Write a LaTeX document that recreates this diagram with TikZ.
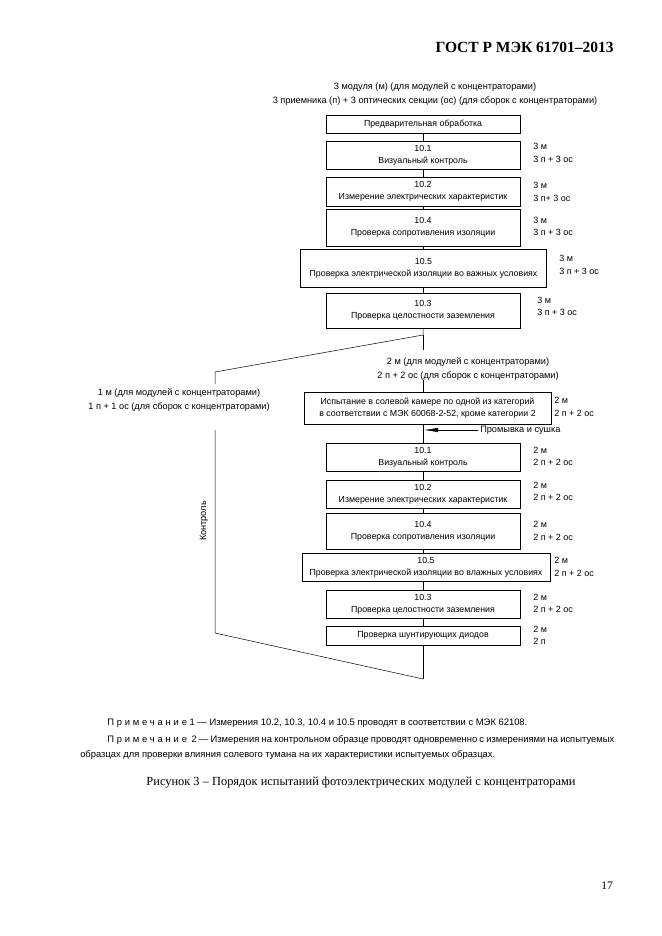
\documentclass[tikz,border=0pt]{standalone}
\usepackage{fontspec}
\setmainfont{Liberation Sans}
\newfontfamily\gostserif{Liberation Serif}
\usetikzlibrary{arrows.meta}

\begin{document}
\begin{tikzpicture}[x=1pt,y=-1pt,line width=0.5pt,
  font=\fontsize{9.2}{14}\selectfont,
  stage/.style={draw, line width=0.6pt, minimum width=194pt, inner sep=0pt, align=center, font=\fontsize{8.8}{12}\selectfont},
  widestage/.style={stage, minimum width=246pt},
  qty/.style={anchor=west, align=left, inner sep=0pt, font=\fontsize{9}{12.5}\selectfont},
  remark/.style={anchor=west, inner sep=0pt, font=\fontsize{9.4}{11}\selectfont}]
\useasboundingbox (0,0) rectangle (661,936);

\node[font=\gostserif\bfseries\fontsize{15.5}{17}\selectfont, anchor=east, inner sep=0pt] (gost) at (614,47) {ГОСТ Р МЭК 61701–2013};
\node[align=center] (top) at (435,94) {3 модуля (м) (для модулей с концентраторами)\\3 приемника (п) + 3 оптических секции (ос) (для сборок с концентраторами)};

% first series
\node[stage, minimum height=18pt] (pre) at (423,124) {Предварительная обработка};
\node[stage, minimum height=28pt] (a1) at (423,155) {10.1\\Визуальный контроль};
\node[qty] (qa1) at (533,153) {3 м\\3 п + 3 ос};
\node[stage, minimum height=29pt] (a2) at (423,191.5) {10.2\\Измерение электрических характеристик};
\node[qty] (qa2) at (533,192) {3 м\\3 п+ 3 ос};
\node[stage, minimum height=37pt] (a4) at (423,227.5) {10.4\\Проверка сопротивления изоляции};
\node[qty] (qa4) at (533,226.5) {3 м\\3 п + 3 ос};
\node[widestage, minimum height=38pt] (a5) at (423.5,268) {10.5\\Проверка электрической изоляции во важных условиях};
\node[qty] (qa5) at (559,265) {3 м\\3 п + 3 ос};
\node[stage, minimum height=35pt] (a3) at (423,310.5) {10.3\\Проверка целостности заземления};
\node[qty] (qa3) at (537,306.5) {3 м\\3 п + 3 ос};
\draw (pre) -- (a1);
\draw (a1) -- (a2);
\draw (a2) -- (a4);
\draw (a4.south) -- (a5.north -| a4.south);
\draw (a5.south -| a3.north) -- (a3.north);

% branches
\coordinate (split) at (423,335);
\coordinate (lcorner) at (215,372);
\coordinate (lstop) at (215,384);
\node[align=center] (lnote) at (179,400) {1 м (для модулей с концентраторами)\\1 п + 1 ос (для сборок с концентраторами)};
\coordinate (lresume) at (215,430);
\coordinate (lbottom) at (215,633);
\coordinate (join) at (423,679);
\node[rotate=90] (ctrl) at (204,521) {Контроль};
\draw (a3) -- (split) -- (lcorner) -- (lstop);
\draw (lresume) -- (lbottom) -- (join);

\coordinate (rstop) at (423,350);
\coordinate (rresume) at (423,380);
\node[align=center] (rnote) at (468,369.5) {2 м (для модулей с концентраторами)\\2 п + 2 ос (для сборок с концентраторами)};
\draw (split) -- (rstop);

% second series
\node[stage, minimum width=247pt, minimum height=32pt] (salt) at (427.5,408) {Испытание в солевой камере по одной из категорий\\в соответствии с МЭК 60068-2-52, кроме категории 2};
\node[qty] (qsalt) at (554,407) {2 м\\2 п + 2 ос};
\draw (rresume) -- (salt.north -| rresume);
\node[anchor=west, inner sep=0pt] (wash) at (480,430) {Промывка и сушка};
\coordinate (washend) at (424,430);
\node[stage, minimum height=28pt] (b1) at (423,457) {10.1\\Визуальный контроль};
\node[qty] (qb1) at (533,456.5) {2 м\\2 п + 2 ос};
\node[stage, minimum height=28pt] (b2) at (423,494) {10.2\\Измерение электрических характеристик};
\node[qty] (qb2) at (533,491.5) {2 м\\2 п + 2 ос};
\node[stage, minimum height=36pt] (b4) at (423,531) {10.4\\Проверка сопротивления изоляции};
\node[qty] (qb4) at (533,531) {2 м\\2 п + 2 ос};
\node[widestage, minimum width=248pt, minimum height=28pt] (b5) at (426,567) {10.5\\Проверка электрической изоляции во влажных условиях};
\node[qty] (qb5) at (554,567) {2 м\\2 п + 2 ос};
\node[stage, minimum height=28pt] (b3) at (423,604) {10.3\\Проверка целостности заземления};
\node[qty] (qb3) at (533,603.5) {2 м\\2 п + 2 ос};
\node[stage, minimum height=19pt] (sh) at (423,635.5) {Проверка шунтирующих диодов};
\node[qty] (qsh) at (533,635.5) {2 м\\2 п};
\draw (salt.south -| b1.north) -- (b1.north);
\draw[-{Latex[length=14pt,width=4.5pt]}] (wash.west) ++(-2,0) -- (washend);
\draw (b1) -- (b2);
\draw (b2) -- (b4);
\draw (b4.south) -- (b5.north -| b4.south);
\draw (b5.south -| b3.north) -- (b3.north);
\draw (b3) -- (sh);
\draw (sh.south) -- (join);

% notes
\node[remark] (n1) at (107,723) {{\addfontfeature{LetterSpace=30}Примечание} 1 — Измерения 10.2, 10.3, 10.4 и 10.5 проводят в соответствии с МЭК 62108.};
\node[remark] (n2a) at (107,740) {\makebox[507pt][s]{{\addfontfeature{LetterSpace=30}Примечание} \ 2 — Измерения на контрольном образце проводят одновременно с измерениями на испытуемых}};
\node[remark] (n2b) at (80,755) {образцах для проверки влияния солевого тумана на их характеристики испытуемых образцах.};
\node[font=\gostserif\fontsize{12.4}{14}\selectfont] (cap) at (361,783) {Рисунок 3 – Порядок испытаний фотоэлектрических модулей с концентраторами};
\node[font=\gostserif\fontsize{11.5}{13}\selectfont] (pnum) at (607,886) {17};
\end{tikzpicture}
\end{document}
